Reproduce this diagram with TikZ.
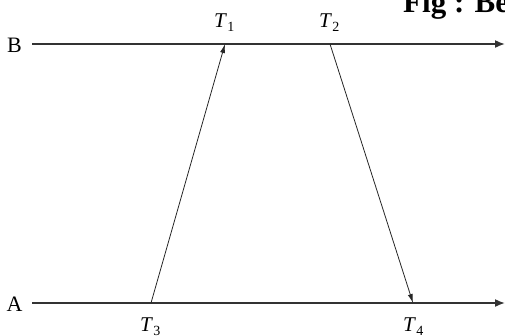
\documentclass[tikz,border=0pt]{standalone}
\usepackage{fontspec}
\setmainfont{Liberation Serif}
\usetikzlibrary{arrows.meta}
\newcommand\tlab[1]{\textit{T}\kern0.3pt\raisebox{-4.5pt}{\fontsize{14}{14}\selectfont #1}}
\begin{document}
\begin{tikzpicture}[x=1pt,y=-1pt,
  axis/.style={line width=1.6pt,draw=black!80,-{Latex[length=10pt,width=8pt]}},
  msg/.style={line width=0.8pt,draw=black!85,-{Latex[length=9pt,width=5pt]}},
  lbl/.style={font=\fontsize{22}{22}\selectfont,inner sep=0pt,anchor=base},
  tlbl/.style={font=\fontsize{21}{21}\selectfont,inner sep=0pt,anchor=base west}]
\useasboundingbox (0,0) rectangle (505,335);
% lines
\coordinate (Bs) at (32,44);
\coordinate (Be) at (505,44);
\coordinate (As) at (32,303);
\coordinate (Ae) at (505,303);
\node[lbl] (B) at (14.5,52) {B};
\node[lbl] (A) at (14.5,311) {A};
\draw[axis] (Bs) -- (Be);
\draw[axis] (As) -- (Ae);
% event points
\coordinate (T1) at (225,44);
\coordinate (T2) at (330,44);
\coordinate (T3) at (151,303);
\coordinate (T4) at (413,303);
\draw[msg] (T3) -- (T1);
\draw[msg] (T2) -- (T4);
% labels
\node[tlbl] (l1) at (214,27) {\tlab{1}};
\node[tlbl] (l2) at (319,27) {\tlab{2}};
\node[tlbl] (l3) at (140,331) {\tlab{3}};
\node[tlbl] (l4) at (403,331) {\tlab{4}};
% cut-off caption
\node[anchor=base west,inner sep=0pt,font=\fontsize{31}{31}\selectfont\bfseries] (cap) at (403,12) {Fig : Be};
\end{tikzpicture}
\end{document}
